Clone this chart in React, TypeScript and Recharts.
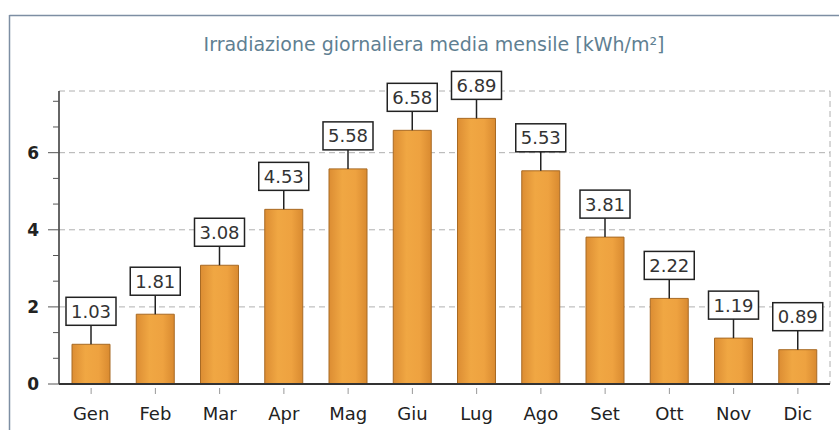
import { BarChart, Bar, XAxis, YAxis, CartesianGrid, LabelList } from "recharts";

const MONTHS = ["Gen", "Feb", "Mar", "Apr", "Mag", "Giu", "Lug", "Ago", "Set", "Ott", "Nov", "Dic"];
const IRRADIATION = [1.03, 1.81, 3.08, 4.53, 5.58, 6.58, 6.89, 5.53, 3.81, 2.22, 1.19, 0.89];
const Y_TICKS = [0, 0.667, 1.333, 2, 2.667, 3.333, 4, 4.667, 5.333, 6, 6.667, 7.333];
const Y_LABELED = [0, 2, 4, 6];
const Y_MAX = 7.6;

const TITLE = "Irradiazione giornaliera media mensile [kWh/m²]";
const FONT = "'DejaVu Sans', Verdana, sans-serif";

const data = MONTHS.map((m, i) => ({ month: m, value: IRRADIATION[i] }));

function YTick(props: any) {
  const { x, y, payload } = props;
  const major = Y_LABELED.some((v) => Math.abs(v - payload.value) < 0.01);
  return (
    <g>
      <line x1={major ? x - 3 : x + 2} x2={x + 8} y1={y} y2={y} stroke="#555" strokeWidth={1} />
      {major && (
        <text x={x - 12} y={y} dy="0.36em" textAnchor="end" fontFamily={FONT} fontSize={17} fontWeight="bold" fill="#222">
          {payload.value}
        </text>
      )}
    </g>
  );
}

function XTick(props: any) {
  const { x, y, payload } = props;
  return (
    <g>
      <line x1={x} x2={x} y1={y - 4} y2={y + 2} stroke="#999" strokeWidth={1} />
      <text x={x} y={y + 22} dy="0.36em" textAnchor="middle" fontFamily={FONT} fontSize={18} fill="#222">
        {payload.value}
      </text>
    </g>
  );
}

function ValueLabel(props: any) {
  const { x, y, width, value } = props;
  const cx = x + width / 2;
  const boxBottom = y - 19;
  const boxH = 28;
  const boxW = 50;
  return (
    <g>
      <line x1={cx} x2={cx} y1={y} y2={boxBottom} stroke="#222" strokeWidth={1.5} />
      <rect x={cx - boxW / 2} y={boxBottom - boxH} width={boxW} height={boxH} fill="#fff" stroke="#222" strokeWidth={1.5} />
      <text x={cx} y={boxBottom - boxH / 2} dy="0.36em" textAnchor="middle" fontFamily={FONT} fontSize={18} fill="#333">
        {Number(value).toFixed(2)}
      </text>
    </g>
  );
}

export default function App() {
  return (
    <div style={{ position: "absolute", left: 0, top: 0, width: 839, height: 430, background: "#fff" }}>
      <svg width={839} height={430} style={{ position: "absolute", left: 0, top: 0 }}>
        <line x1={9.5} x2={839} y1={15.5} y2={15.5} stroke="#7d8ea3" strokeWidth={1.5} />
        <line x1={9.5} x2={9.5} y1={15} y2={430} stroke="#7d8ea3" strokeWidth={1.5} />
        <text x={434} y={44} dy="0.36em" textAnchor="middle" fontFamily={FONT} fontSize={19} fill="#5f7f92">
          {TITLE}
        </text>
      </svg>
      <div style={{ position: "absolute", left: 0, top: 0 }}>
        <BarChart width={839} height={430} data={data} margin={{ top: 91, right: 9, bottom: 0, left: 0 }} barCategoryGap="20%">
          <CartesianGrid
            vertical
            horizontalValues={[2, 4, 6, Y_MAX]}
            verticalCoordinatesGenerator={({ offset }: any) => [offset.left + offset.width]}
            stroke="#b0b0b0"
            strokeDasharray="6 4"
          />
          <XAxis
            dataKey="month"
            height={46}
            tick={<XTick />}
            tickLine={false}
            axisLine={{ stroke: "#333", strokeWidth: 2 }}
            interval={0}
          />
          <YAxis
            width={59}
            domain={[0, Y_MAX]}
            ticks={Y_TICKS}
            tick={<YTick />}
            tickLine={false}
            axisLine={{ stroke: "#333", strokeWidth: 1.5 }}
            allowDataOverflow
          />
          <defs>
            <linearGradient id="barFill" x1="0" y1="0" x2="1" y2="0">
              <stop offset="0%" stopColor="#dc8d33" />
              <stop offset="35%" stopColor="#f0a743" />
              <stop offset="70%" stopColor="#eea240" />
              <stop offset="100%" stopColor="#d98a30" />
            </linearGradient>
          </defs>
          <Bar dataKey="value" fill="url(#barFill)" stroke="#a86a24" strokeWidth={1} barSize={38} isAnimationActive={false}>
            <LabelList dataKey="value" content={<ValueLabel />} />
          </Bar>
        </BarChart>
      </div>
    </div>
  );
}
